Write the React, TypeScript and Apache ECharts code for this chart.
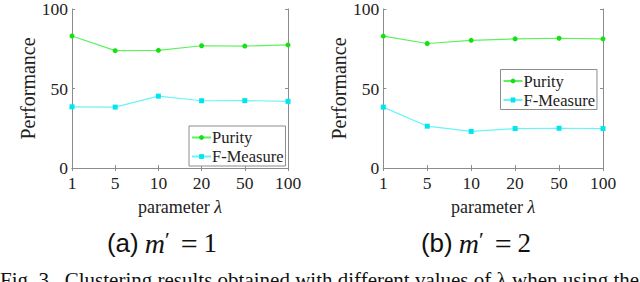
import React, { useEffect, useRef } from "react";
import * as echarts from "echarts";

const categories = ["1", "5", "10", "20", "50", "100"];
const purityA = [83, 73.8, 74, 76.9, 76.7, 77.4];
const fMeasureA = [38.5, 38.3, 45.2, 42.3, 42.4, 41.9];
const purityB = [82.9, 78.3, 80.3, 81.2, 81.6, 81.2];
const fMeasureB = [38.3, 26.3, 23, 24.8, 25, 24.8];
const yTicks = { min: 0, max: 100, interval: 50 };

const SERIF = "Liberation Serif";
const SANS = "Liberation Sans";
const AXIS_COLOR = "#8c8c8c";
const TEXT_COLOR = "#222";
const GREEN_LINE = "#5cf25c";
const GREEN_MARK = "#14e014";
const CYAN_LINE = "#6af4f4";
const CYAN_MARK = "#00e6ee";

export default function App() {
  const ref = useRef<HTMLDivElement>(null);
  useEffect(() => {
    if (!ref.current) return;
    const chart = echarts.init(ref.current, undefined, { renderer: "svg" });

    const grids = [
      { left: 72, top: 8, width: 216, height: 160 },
      { left: 383.3, top: 8, width: 219.7, height: 160 },
    ];

    const xAxes: any[] = [];
    const yAxes: any[] = [];
    grids.forEach((_, gi) => {
      xAxes.push({
        gridIndex: gi,
        type: "category",
        data: categories,
        boundaryGap: false,
        position: "bottom",
        axisLine: { lineStyle: { color: AXIS_COLOR, width: 1 } },
        axisTick: { inside: true, length: 3, lineStyle: { color: AXIS_COLOR } },
        axisLabel: { color: TEXT_COLOR, fontFamily: SERIF, fontSize: 17.5, margin: 6 },
        splitLine: { show: false },
        name: "{a|parameter }{b|λ}",
        nameLocation: "middle",
        nameGap: 30,
        nameTextStyle: {
          rich: {
            a: { fontFamily: SERIF, fontSize: 18, color: TEXT_COLOR },
            b: { fontFamily: SERIF, fontSize: 18, fontStyle: "italic", color: TEXT_COLOR },
          },
        },
      });
      xAxes.push({
        gridIndex: gi,
        type: "category",
        data: categories,
        boundaryGap: false,
        position: "top",
        axisLine: { lineStyle: { color: AXIS_COLOR, width: 1 } },
        axisTick: { inside: true, length: 3, lineStyle: { color: AXIS_COLOR } },
        axisLabel: { show: false },
        splitLine: { show: false },
      });
      yAxes.push({
        gridIndex: gi,
        type: "value",
        min: yTicks.min,
        max: yTicks.max,
        interval: yTicks.interval,
        position: "left",
        axisLine: { show: true, lineStyle: { color: AXIS_COLOR, width: 1 } },
        axisTick: { show: true, inside: true, length: 3, lineStyle: { color: AXIS_COLOR } },
        axisLabel: { color: TEXT_COLOR, fontFamily: SERIF, fontSize: 17.5, margin: 4 },
        splitLine: { show: false },
        name: "Performance",
        nameLocation: "middle",
        nameGap: 34,
        nameTextStyle: { fontFamily: SERIF, fontSize: 20, color: TEXT_COLOR },
      });
      yAxes.push({
        gridIndex: gi,
        type: "value",
        min: yTicks.min,
        max: yTicks.max,
        interval: yTicks.interval,
        position: "right",
        axisLine: { show: true, lineStyle: { color: AXIS_COLOR, width: 1 } },
        axisTick: { show: true, inside: true, length: 3, lineStyle: { color: AXIS_COLOR } },
        axisLabel: { show: false },
        splitLine: { show: false },
      });
    });

    const mkSeries = (name: string, data: number[], gi: number, purity: boolean) => ({
      name,
      type: "line",
      xAxisIndex: gi * 2,
      yAxisIndex: gi * 2,
      data,
      symbol: purity ? "circle" : "rect",
      symbolSize: 5,
      lineStyle: { color: purity ? GREEN_LINE : CYAN_LINE, width: 1.2 },
      itemStyle: { color: purity ? GREEN_MARK : CYAN_MARK },
      emphasis: { disabled: true },
    });

    const legendBase = {
      orient: "vertical",
      data: ["Purity", "F-Measure"],
      itemWidth: 19,
      itemHeight: 6,
      itemGap: 2,
      padding: [3, 2, 1, 2],
      borderColor: AXIS_COLOR,
      borderWidth: 1,
      borderRadius: 0,
      backgroundColor: "#fff",
      selectedMode: false,
      textStyle: { fontFamily: SERIF, fontSize: 16.5, color: TEXT_COLOR, lineHeight: 16, padding: [0, 0, 0, -4] },
    };

    const sub = (label: string, num: string) =>
      `{s|(${label})}{m|m}{p|′}{e|=}{n|${num}}`;
    const subRich = {
      s: { fontFamily: SANS, fontSize: 26, fill: "#111", padding: [0, 6, 0, 0] },
      m: { fontFamily: SERIF, fontStyle: "italic", fontSize: 28, fill: "#111" },
      p: { fontFamily: SERIF, fontSize: 22, fill: "#111", padding: [0, 11, 8, 0] },
      e: { fontFamily: SERIF, fontSize: 30, fill: "#111", padding: [0, 6, 0, 0] },
      n: { fontFamily: SERIF, fontSize: 27, fill: "#111" },
    };

    chart.setOption({
      animation: false,
      backgroundColor: "#fff",
      grid: grids,
      xAxis: xAxes,
      yAxis: yAxes,
      legend: [
        { ...legendBase, left: 189, top: 126 },
        { ...legendBase, left: 500.5, top: 69.5 },
      ],
      series: [
        mkSeries("Purity", purityA, 0, true),
        mkSeries("F-Measure", fMeasureA, 0, false),
        mkSeries("Purity", purityB, 1, true),
        mkSeries("F-Measure", fMeasureB, 1, false),
      ],
      graphic: [
        {
          type: "text",
          x: 162,
          y: 243,
          style: { text: sub("a", "1"), align: "center", verticalAlign: "middle", rich: subRich },
        },
        {
          type: "text",
          x: 476,
          y: 243,
          style: { text: sub("b", "2"), align: "center", verticalAlign: "middle", rich: subRich },
        },
        {
          type: "text",
          x: 0,
          y: 269,
          style: {
            text: "Fig. 3.  Clustering results obtained with different values of λ when using the",
            fontFamily: SERIF,
            fontSize: 21,
            fill: "#111",
            align: "left",
            verticalAlign: "top",
          },
        },
      ],
    });
    return () => chart.dispose();
  }, []);
  return (
    <div
      ref={ref}
      style={{ position: "absolute", left: 0, top: 0, width: 640, height: 282, background: "#fff" }}
    />
  );
}
